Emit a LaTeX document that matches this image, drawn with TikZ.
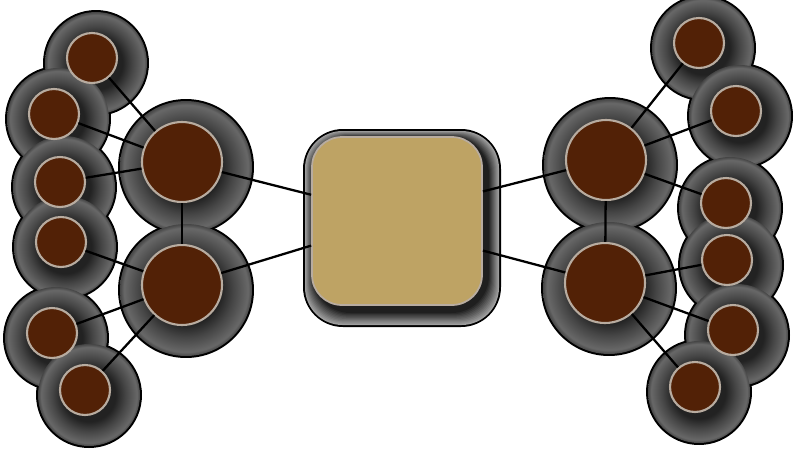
\documentclass[tikz,border=0pt]{standalone}
\usepackage{tikz}
\definecolor{nutbrown}{RGB}{82,33,6}
\definecolor{rimgrey}{RGB}{184,172,160}
\definecolor{hubtan}{RGB}{190,163,100}
\definecolor{halodark}{RGB}{34,34,34}
\definecolor{halomid}{RGB}{70,70,70}
\definecolor{halolight}{RGB}{104,104,104}
\pgfdeclareradialshading{haloshade}{\pgfpointorigin}{color(0bp)=(halodark); color(13bp)=(halodark); color(18bp)=(halomid); color(23.5bp)=(halolight); color(25bp)=(halomid); color(50bp)=(halomid)}
\pgfdeclarelayer{halolayer}
\pgfsetlayers{halolayer,main}

\begin{document}
\begin{tikzpicture}[x=0.02cm,y=-0.02cm,
    leaf/.style={circle,draw=rimgrey,line width=1.2pt,fill=nutbrown,minimum size=1cm,inner sep=0pt},
    core/.style={leaf,minimum size=1.6cm},
    hub/.style={rectangle,rounded corners=0.6cm,draw=rimgrey,line width=1pt,fill=hubtan,minimum width=3.4cm,minimum height=3.36cm},
    link/.style={line width=1.3pt,black}]
        \useasboundingbox (0,0) rectangle (800,450);
        \node[hub] (hub) at (397,221) {};
        \node[core] (la) at (182,162) {};
        \node[core] (lb) at (182,285) {};
        \node[core] (ra) at (606,160) {};
        \node[core] (rb) at (605,283) {};
        \node[leaf] (l1) at (92,58) {};
        \node[leaf] (l2) at (54,114) {};
        \node[leaf] (l3) at (60,182) {};
        \node[leaf] (l4) at (61,242) {};
        \node[leaf] (l5) at (52,333) {};
        \node[leaf] (l6) at (85,390) {};
        \node[leaf] (r1) at (699,43) {};
        \node[leaf] (r2) at (736,111) {};
        \node[leaf] (r3) at (726,203) {};
        \node[leaf] (r4) at (727,260) {};
        \node[leaf] (r5) at (733,330) {};
        \node[leaf] (r6) at (695,387) {};
        \begin{pgfonlayer}{halolayer}
            \fill[white] (0,0) rectangle (800,450);
            \foreach \n in {l1,l2,l3,l4,l5,l6,r1,r2,r3,r4,r5,r6}
                \fill[black] ([shift={(4,5)}]\n) circle (1.06cm);
            \foreach \n in {la,lb,ra,rb}
                \fill[black] ([shift={(4,5)}]\n) circle (1.36cm);
            \foreach \n in {l1,l2,l3,l4,l5,l6,r1,r2,r3,r4,r5,r6}
                \shade[shading=haloshade] ([shift={(4,5)}]\n) circle (1.02cm);
            \foreach \n in {la,lb,ra,rb}
                \shade[shading=haloshade] ([shift={(4,5)}]\n) circle (1.32cm);
            \fill[black,rounded corners=0.8cm] (303,129) rectangle (501,327);
            \foreach \i in {0,...,10}
                \fill[black!\the\numexpr 38+5*\i\relax,rounded corners=0.75cm]
                    (305+0.8*\i,131+0.6*\i) rectangle (499-1*\i,325-1.2*\i);
        \end{pgfonlayer}
        \draw[link] (l1)--(la);
        \draw[link] (l2)--(la);
        \draw[link] (l3)--(la);
        \draw[link] (la)--(lb);
        \draw[link] (l4)--(lb);
        \draw[link] (l5)--(lb);
        \draw[link] (l6)--(lb);
        \draw[link] (r1)--(ra);
        \draw[link] (r2)--(ra);
        \draw[link] (r3)--(ra);
        \draw[link] (ra)--(rb);
        \draw[link] (r4)--(rb);
        \draw[link] (r5)--(rb);
        \draw[link] (r6)--(rb);
        \draw[link] (la)--(hub.163);
        \draw[link] (lb)--(hub.196);
        \draw[link] (ra)--(hub.19);
        \draw[link] (rb)--(hub.341);
    \end{tikzpicture}
\end{document}
